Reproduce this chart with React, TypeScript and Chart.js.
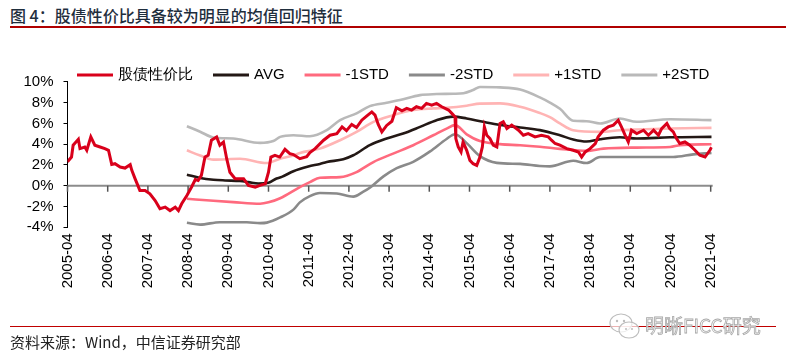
import React, { useEffect, useRef } from 'react';
import { Chart, registerables } from 'chart.js';

Chart.register(...registerables);

const seriesNames = ['股债性价比', 'AVG', '-1STD', '-2STD', '+1STD', '+2STD'];
const seriesColors = ['#D9001B', '#231815', '#FF6A7E', '#8A8A8A', '#FFB4B4', '#B9B9B9'];

const xTickLabels = [
  '2005-04', '2006-04', '2007-04', '2008-04', '2009-04', '2010-04', '2011-04', '2012-04',
  '2013-04', '2014-04', '2015-04', '2016-04', '2017-04', '2018-04', '2019-04', '2020-04', '2021-04',
];
const yTickValues = [-4, -2, 0, 2, 4, 6, 8, 10];

// 股债性价比 (decimal year, %)
const ratioT = [
  2005.25, 2005.35, 2005.39, 2005.52, 2005.56, 2005.68, 2005.73, 2005.83, 2005.93, 2006.06,
  2006.18, 2006.27, 2006.35, 2006.43, 2006.56, 2006.68, 2006.81, 2006.85, 2006.93, 2007.05,
  2007.18, 2007.30, 2007.43, 2007.55, 2007.68, 2007.80, 2007.93, 2008.01, 2008.09, 2008.22,
  2008.34, 2008.43, 2008.50, 2008.58, 2008.67, 2008.75, 2008.83, 2008.96, 2009.04, 2009.13,
  2009.21, 2009.29, 2009.42, 2009.63, 2009.75, 2009.92, 2010.04, 2010.17, 2010.25, 2010.31,
  2010.41, 2010.53, 2010.66, 2010.78, 2010.87, 2011.03, 2011.20, 2011.28, 2011.41, 2011.62,
  2011.78, 2011.95, 2012.08, 2012.19, 2012.32, 2012.44, 2012.57, 2012.69, 2012.82, 2012.90,
  2012.98, 2013.07, 2013.19, 2013.32, 2013.43, 2013.57, 2013.69, 2013.81, 2013.93, 2014.06,
  2014.18, 2014.31, 2014.43, 2014.56, 2014.73, 2014.81, 2014.89, 2014.91, 2014.97, 2015.04,
  2015.09, 2015.18, 2015.26, 2015.34, 2015.43, 2015.51, 2015.57, 2015.62, 2015.68, 2015.76,
  2015.84, 2015.93, 2016.01, 2016.09, 2016.18, 2016.30, 2016.47, 2016.59, 2016.71, 2016.88,
  2017.04, 2017.21, 2017.29, 2017.38, 2017.50, 2017.67, 2017.83, 2017.96, 2018.04, 2018.13,
  2018.25, 2018.38, 2018.45, 2018.58, 2018.70, 2018.83, 2018.95, 2019.03, 2019.12, 2019.20,
  2019.28, 2019.41, 2019.58, 2019.70, 2019.83, 2019.95, 2020.03, 2020.16, 2020.23, 2020.32,
  2020.40, 2020.48, 2020.61, 2020.73, 2020.86, 2020.98, 2021.11, 2021.23, 2021.27,
];
const ratioV = [
  2.3, 2.76, 3.9, 4.47, 3.57, 3.73, 3.41, 4.7, 3.9, 3.73,
  3.57, 3.41, 2.05, 2.12, 1.8, 1.7, 2.03, 1.48, 0.68, -0.45,
  -0.45, -0.77, -1.42, -2.22, -2.06, -2.39, -2.06, -2.39, -1.74, -0.94,
  -0.1, 0.6, 0.5, 1.0, 2.76, 2.93, 4.38, 4.7, 3.9, 4.2,
  2.6, 1.3, 0.68, 0.68, 0.03, -0.13, 0.03, 0.19, 1.3, 2.76,
  2.93, 2.76, 3.5, 3.09, 3.0, 2.6, 2.8, 3.2, 3.57, 4.38,
  4.86, 5.0, 5.66, 5.3, 5.9, 5.6, 6.31, 6.7, 7.1, 6.8,
  5.9, 5.18, 5.8, 6.2, 7.5, 7.2, 7.44, 7.28, 7.6, 7.44,
  7.92, 7.76, 7.92, 7.6, 7.28, 6.96, 6.63, 4.54, 3.73, 3.25,
  4.21, 3.41, 2.44, 2.12, 1.96, 2.76, 3.73, 5.66, 4.86, 4.54,
  3.9, 3.73, 5.99, 6.15, 5.5, 5.83, 5.34, 4.86, 5.02, 4.7,
  4.86, 4.7, 4.38, 4.06, 3.9, 3.57, 3.41, 3.25, 2.76, 3.25,
  3.57, 4.06, 4.7, 5.34, 5.66, 5.83, 6.3, 5.66, 4.86, 4.21,
  5.34, 5.02, 5.34, 4.86, 5.34, 4.86, 5.5, 5.99, 5.5, 5.18,
  4.54, 4.06, 4.21, 3.9, 3.41, 2.93, 2.76, 3.41, 3.7,
];

const avgT = [
  2008.22, 2008.55, 2008.88, 2009.17, 2009.54, 2009.75, 2010.0, 2010.25, 2010.45, 2010.58,
  2010.87, 2011.24, 2011.53, 2011.7, 2012.11, 2012.36, 2012.77, 2013.19, 2013.6, 2014.02,
  2014.43, 2014.85, 2015.18, 2015.59, 2016.01, 2016.51, 2017.0, 2017.5, 2017.83, 2018.16,
  2018.5, 2018.99, 2019.41, 2020.24, 2021.27,
];
const avgV = [
  1.06, 0.75, 0.58, 0.51, 0.45, 0.35, 0.22, 0.29, 0.7, 0.85,
  1.4, 1.85, 2.1, 2.28, 2.55, 2.93, 3.9, 4.54, 5.02, 5.66,
  6.31, 6.65, 6.47, 6.15, 5.85, 5.6, 5.35, 4.85, 4.45, 4.25,
  4.48, 4.66, 4.55, 4.66, 4.7,
];

const minus1T = [
  2008.22, 2008.88, 2009.37, 2010.04, 2010.25, 2010.54, 2011.03, 2011.28, 2011.53, 2012.03,
  2012.44, 2012.86, 2013.35, 2013.85, 2014.35, 2014.68, 2014.89, 2015.18, 2015.51, 2016.01,
  2016.51, 2017.0, 2017.5, 2018.16, 2018.58, 2019.41, 2020.24, 2020.49, 2021.27,
];
const minus1V = [
  -1.26, -1.45, -1.58, -1.74, -1.6, -1.2, -0.13, 0.35, 0.77, 0.83,
  1.31, 2.28, 3.09, 3.9, 4.86, 5.5, 5.83, 4.95, 4.3, 4.0,
  3.9, 3.75, 3.55, 3.35, 3.57, 3.67, 3.73, 3.9, 3.99,
];

const minus2T = [
  2008.22, 2008.55, 2009.04, 2009.71, 2010.04, 2010.21, 2010.54, 2010.87, 2011.03, 2011.28,
  2011.53, 2011.95, 2012.36, 2012.6, 2012.77, 2013.11, 2013.44, 2013.85, 2014.27, 2014.68,
  2014.89, 2015.18, 2015.51, 2015.93, 2016.51, 2017.0, 2017.25, 2017.83, 2018.16, 2018.5,
  2019.41, 2020.32, 2020.82, 2021.27,
];
const minus2V = [
  -3.57, -3.74, -3.51, -3.51, -3.6, -3.55, -3.05, -2.3, -1.6, -1.0,
  -0.7, -0.75, -1.05, -0.6, -0.2, 0.9, 1.7, 2.3, 3.3, 4.5,
  4.96, 4.1, 2.85, 2.2, 2.1, 1.9, 1.86, 2.4, 2.18, 2.76,
  2.76, 2.76, 3.02, 3.15,
];

const plus1T = [
  2008.22, 2008.55, 2008.88, 2009.54, 2010.21, 2010.54, 2010.87, 2011.03, 2011.53, 2012.03,
  2012.44, 2012.86, 2013.35, 2013.85, 2014.35, 2014.68, 2015.18, 2015.51, 2016.01, 2016.51,
  2017.0, 2017.25, 2017.5, 2017.83, 2018.5, 2018.99, 2019.41, 2020.24, 2021.27,
];
const plus1V = [
  3.41, 2.9, 2.51, 2.6, 2.18, 2.6, 2.9, 3.15, 3.57, 4.38,
  5.18, 6.15, 6.79, 7.28, 7.44, 7.5, 7.7, 7.9, 7.92, 7.6,
  7.0, 6.6, 6.0, 5.34, 5.18, 5.34, 5.41, 5.5, 5.57,
];

const plus2T = [
  2008.22, 2008.55, 2008.88, 2009.37, 2010.04, 2010.37, 2010.54, 2010.87, 2011.28, 2011.7,
  2012.03, 2012.44, 2012.77, 2013.19, 2013.52, 2014.02, 2014.43, 2014.85, 2015.1, 2015.34,
  2015.51, 2016.01, 2016.51, 2017.0, 2017.25, 2017.5, 2017.83, 2018.16, 2018.5, 2018.99,
  2019.41, 2020.24, 2021.27,
];
const plus2V = [
  5.73, 5.2, 4.64, 4.54, 4.12, 4.3, 4.7, 4.86, 4.76, 5.34,
  6.31, 6.96, 7.66, 7.98, 8.24, 8.72, 8.82, 8.85, 8.9, 9.21,
  9.5, 9.46, 9.25, 8.5, 8.0, 7.4, 6.25, 6.21, 5.99, 6.47,
  6.15, 6.4, 6.31,
];

const FONT = 'Arial, "Liberation Sans", sans-serif';

function pairs(t: number[], v: number[]) {
  return t.map((x, i) => ({ x, y: v[i] }));
}

const zeroAxisPlugin = {
  id: 'zeroAxis',
  beforeDatasetsDraw(chart: any) {
    const { ctx, chartArea, scales } = chart;
    const y0 = scales.y.getPixelForValue(0);
    ctx.save();
    ctx.strokeStyle = '#8C8C8C';
    ctx.lineWidth = 2;
    ctx.beginPath();
    ctx.moveTo(chartArea.left, y0);
    ctx.lineTo(chartArea.right, y0);
    ctx.stroke();
    ctx.strokeStyle = '#555';
    ctx.lineWidth = 1.5;
    scales.x.ticks.forEach((tk: any) => {
      const x = scales.x.getPixelForValue(tk.value);
      ctx.beginPath();
      ctx.moveTo(x, y0);
      ctx.lineTo(x, y0 + 6);
      ctx.stroke();
    });
    ctx.restore();
  },
};

const legendPlugin = {
  id: 'customLegend',
  afterDraw(chart: any) {
    const { ctx } = chart;
    ctx.save();
    ctx.font = `15px ${FONT}`;
    ctx.textBaseline = 'middle';
    ctx.textAlign = 'left';
    let x = 77;
    const y = 75;
    chart.data.datasets.forEach((ds: any) => {
      ctx.strokeStyle = ds.borderColor;
      ctx.lineWidth = 3;
      ctx.beginPath();
      ctx.moveTo(x, y);
      ctx.lineTo(x + 36, y);
      ctx.stroke();
      ctx.fillStyle = '#000';
      ctx.fillText(ds.label, x + 41, y);
      x += 41 + ctx.measureText(ds.label).width + 20;
    });
    ctx.restore();
  },
};

export default function App() {
  const canvasRef = useRef<HTMLCanvasElement | null>(null);

  useEffect(() => {
    if (!canvasRef.current) return;
    const seriesT = [ratioT, avgT, minus1T, minus2T, plus1T, plus2T];
    const seriesV = [ratioV, avgV, minus1V, minus2V, plus1V, plus2V];
    const datasets = seriesNames.map((name, i) => ({
      label: name,
      data: pairs(seriesT[i], seriesV[i]),
      borderColor: seriesColors[i],
      backgroundColor: seriesColors[i],
      borderWidth: i === 0 ? 3 : 2.6,
      pointRadius: 0,
      tension: i === 0 ? 0 : 0.4,
      cubicInterpolationMode: i === 0 ? 'default' : 'monotone',
      fill: false,
    }));

    const chart = new Chart(canvasRef.current, {
      type: 'line',
      data: { datasets } as any,
      options: {
        animation: false,
        responsive: false,
        devicePixelRatio: 1,
        layout: { padding: { left: 0, top: 81.8, right: 73.3, bottom: 60.7 } },
        plugins: {
          legend: { display: false },
          tooltip: { enabled: false },
        },
        scales: {
          x: {
            type: 'linear',
            min: 2005.25,
            max: 2021.3,
            afterBuildTicks: (s: any) => {
              s.ticks = xTickLabels.map((_, i) => ({ value: 2005.25 + i }));
            },
            afterFit: (s: any) => {
              s.height = 70;
            },
            grid: { display: false, drawTicks: false },
            border: { display: false },
            ticks: {
              autoSkip: false,
              minRotation: 90,
              maxRotation: 90,
              padding: 6,
              color: '#000',
              font: { family: FONT, size: 15 },
              callback: (_v: any, i: number) => xTickLabels[i],
            },
          },
          y: {
            min: -4,
            max: 10,
            afterBuildTicks: (s: any) => {
              s.ticks = yTickValues.map((v) => ({ value: v }));
            },
            afterFit: (s: any) => {
              s.width = 67.5;
            },
            grid: {
              drawOnChartArea: false,
              drawTicks: true,
              tickLength: 4,
              color: '#000',
              lineWidth: 1,
            },
            border: { display: true, color: '#000', width: 1 },
            ticks: {
              autoSkip: false,
              padding: 10,
              color: '#000',
              font: { family: FONT, size: 15 },
              callback: (v: any) => `${v}%`,
            },
          },
        },
      } as any,
      plugins: [zeroAxisPlugin, legendPlugin],
    });
    return () => chart.destroy();
  }, []);

  return (
    <div style={{ position: 'fixed', left: 0, top: 0, width: 786, height: 358, background: '#fff', overflow: 'hidden' }}>
      <div
        style={{
          position: 'absolute', left: 10, top: 5, fontSize: 16, color: '#1F2E3D', fontWeight: 500,
          fontFamily: '"Noto Sans CJK SC", "Liberation Sans", sans-serif', whiteSpace: 'nowrap', lineHeight: '20px',
        }}
      >
        图 4：股债性价比具备较为明显的均值回归特征
      </div>
      <div style={{ position: 'absolute', left: 10, right: 0, top: 26, height: 1.5, background: '#B00000' }} />
      <canvas ref={canvasRef} width={786} height={358} style={{ position: 'absolute', left: 0, top: 0 }} />
      <div style={{ position: 'absolute', left: 10, top: 325.5, width: 766, height: 1.5, background: '#C00000' }} />
      <div
        style={{
          position: 'absolute', left: 10, top: 333, fontSize: 15, color: '#222',
          fontFamily: '"Noto Sans CJK SC", "Liberation Sans", sans-serif', whiteSpace: 'nowrap', lineHeight: '18px',
        }}
      >
        资料来源：Wind，中信证券研究部
      </div>
      <svg style={{ position: 'absolute', left: 608, top: 311 }} width={34} height={32} viewBox="0 0 34 32">
        <ellipse cx="13" cy="12" rx="11" ry="9" fill="rgba(255,255,255,0.7)" stroke="#bdbdbd" strokeWidth="1.2" />
        <ellipse cx="21" cy="19" rx="10" ry="8" fill="rgba(255,255,255,0.7)" stroke="#bdbdbd" strokeWidth="1.2" />
        <circle cx="9" cy="10" r="1.2" fill="#bdbdbd" />
        <circle cx="16" cy="10" r="1.2" fill="#bdbdbd" />
        <circle cx="18" cy="18" r="1" fill="#bdbdbd" />
        <circle cx="24" cy="18" r="1" fill="#bdbdbd" />
      </svg>
      <div
        style={{
          position: 'absolute', left: 645, top: 313, fontSize: 19, color: 'rgba(255,255,255,0.85)',
          WebkitTextStroke: '0.8px #a8a8a8', fontFamily: '"Noto Sans CJK SC", sans-serif', whiteSpace: 'nowrap', lineHeight: '24px',
        } as any}
      >
        明晰FICC研究
      </div>
    </div>
  );
}
